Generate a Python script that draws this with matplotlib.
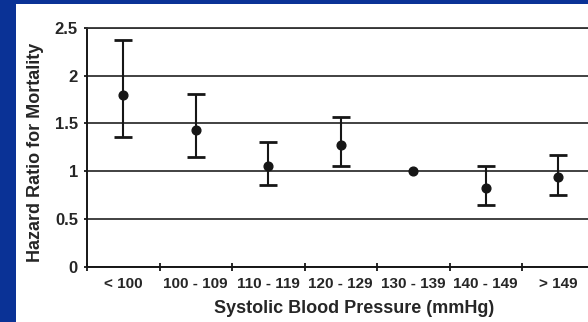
import matplotlib
matplotlib.use("Agg")
import matplotlib.pyplot as plt
import matplotlib.patches as mpatches
import numpy as np

# ── Data ─────────────────────────────────────────────────────────
categories = ["< 100", "100 - 109", "110 - 119", "120 - 129",
              "130 - 139", "140 - 149", "> 149"]
hazard_ratio = [1.80, 1.43, 1.05, 1.27, 1.00, 0.82, 0.94]
ci_upper = [2.37, 1.81, 1.31, 1.57, 1.00, 1.05, 1.17]
ci_lower = [1.36, 1.15, 0.86, 1.05, 1.00, 0.65, 0.75]
y_ticks = [0, 0.5, 1, 1.5, 2, 2.5]
y_tick_labels = ["0", "0.5", "1", "1.5", "2", "2.5"]

TEXT = "#262626"
INK = "#161616"

# ── Figure / slide background ────────────────────────────────────
plt.rcParams["font.family"] = ["Liberation Sans", "DejaVu Sans"]
fig = plt.figure(figsize=(5.88, 3.22), dpi=100)
fig.patch.set_facecolor("#0a3296")
fig.patches.append(mpatches.Rectangle((16 / 588, 0), 1, 318 / 322,
                                      transform=fig.transFigure,
                                      facecolor="white", edgecolor="none",
                                      zorder=-10))

# axes run a little past the right edge, like the cropped slide
ax = fig.add_axes([87 / 588, 55.3 / 322, 507.5 / 588, 238.7 / 322])
ax.set_facecolor("white")

x = np.arange(len(categories))
hr = np.array(hazard_ratio)
lo = np.array(ci_lower)
hi = np.array(ci_upper)

# reference category (HR = 1) has no interval drawn
has_ci = (hi - lo) > 0
ax.errorbar(x[has_ci], hr[has_ci],
            yerr=[hr[has_ci] - lo[has_ci], hi[has_ci] - hr[has_ci]],
            fmt="none", ecolor=INK, elinewidth=1.5, capsize=6.5,
            capthick=2.0, zorder=3)
ax.plot(x, hr, "o", color=INK, ms=6.3, zorder=4)

ax.set_xlim(-0.5, len(categories) - 0.5)
ax.set_ylim(0, 2.5)

# gridlines
ax.set_yticks(y_ticks)
ax.set_yticklabels(y_tick_labels)
ax.yaxis.grid(True, color="#333333", linewidth=1.3)
ax.set_axisbelow(True)

# x ticks: marks on the category boundaries, labels at the centres
ax.set_xticks(np.arange(len(categories) + 1) - 0.5)
ax.set_xticklabels([])
ax.set_xticks(x, minor=True)
ax.set_xticklabels(categories, minor=True)
ax.tick_params(axis="x", which="major", direction="inout", length=6,
               width=1.3, color=INK)
ax.tick_params(axis="x", which="minor", length=0, pad=7.5,
               labelsize=11, labelcolor=TEXT)
ax.tick_params(axis="y", direction="out", length=2.5, width=1.3,
               color=INK, pad=4, labelsize=12, labelcolor=TEXT)
for lab in ax.get_xticklabels(minor=True) + ax.get_yticklabels():
    lab.set_fontweight("bold")

ax.spines["right"].set_visible(False)
ax.spines["top"].set_color("#333333")
ax.spines["top"].set_linewidth(1.3)
ax.spines["left"].set_linewidth(1.4)
ax.spines["bottom"].set_linewidth(1.4)
ax.spines["left"].set_color(INK)
ax.spines["bottom"].set_color(INK)

ax.set_xlabel("Systolic Blood Pressure (mmHg)", fontsize=13,
              fontweight="bold", color=TEXT, va="center")
ax.xaxis.set_label_coords(0.526, -0.177)
ax.set_ylabel("Hazard Ratio for Mortality", fontsize=13,
              fontweight="bold", color=TEXT, va="center")
ax.yaxis.set_label_coords(-0.101, 0.478)

plt.savefig("out.png", dpi=100, facecolor=fig.get_facecolor())
plt.close()
